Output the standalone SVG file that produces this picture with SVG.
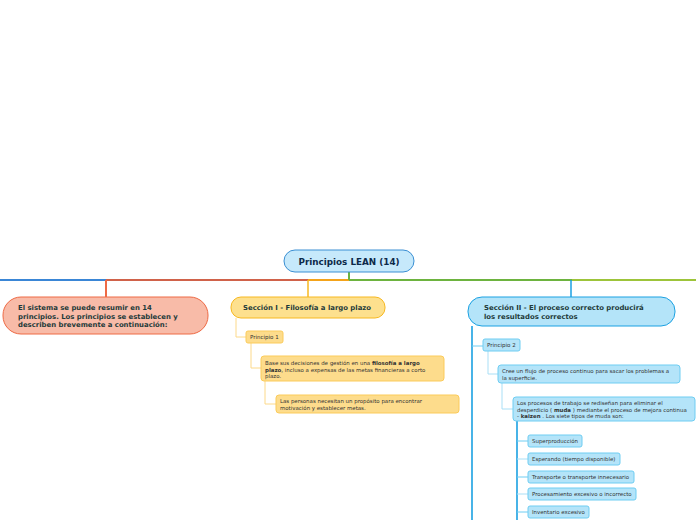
<svg xmlns="http://www.w3.org/2000/svg" width="696" height="520" viewBox="0 0 696 520">
<style>
text{font-family:"DejaVu Sans","Verdana",sans-serif;fill:#333}
.b{font-weight:bold}
.main{font-size:8.8px;font-weight:bold;fill:#0d2a4a}
.sec{font-size:6.9px;font-weight:bold;fill:#1e3a3a}
.sm{font-size:5.45px}
.pr{font-size:5.5px}
.c{fill:none;stroke-width:1}
.y{fill:#fddc8c;stroke:#fbcb5a;stroke-width:1}
.bl{fill:#b4e4f9;stroke:#6ecdf2;stroke-width:1}
</style>
<rect width="696" height="520" fill="#fff"/>
<g id="connectors" fill="none">
<path d="M0 280H106" stroke="#3a86d6" stroke-width="2"/>
<path d="M106 280H308" stroke="#d0624a" stroke-width="2"/>
<path d="M308 280H349" stroke="#f4a31a" stroke-width="2"/>
<path d="M349 280H572" stroke="#6db33f" stroke-width="2"/>
<path d="M572 280H696" stroke="#9dc43a" stroke-width="2"/>
<path d="M349 272V280" stroke="#6db33f" stroke-width="2"/>
<path d="M106 280V297" stroke="#ee6a45" stroke-width="2"/>
<path d="M308 280V297" stroke="#f7b820" stroke-width="1.5"/>
<path d="M571 280V297" stroke="#1ba1e2" stroke-width="1.5"/>
<path d="M236 318V337H246" stroke="#fcd98a" stroke-width="1"/>
<path d="M251 343V368H261" stroke="#fcd98a" stroke-width="1"/>
<path d="M265 381V404H276" stroke="#fcd98a" stroke-width="1"/>
<path d="M472 326V520" stroke="#1ba1e2" stroke-width="1.6"/>
<path d="M472 346H483" stroke="#6ecdf2" stroke-width="1"/>
<path d="M488 351V374H498" stroke="#a9dff6" stroke-width="1"/>
<path d="M502 383V409H513" stroke="#a9dff6" stroke-width="1"/>
<path d="M517 421V520" stroke="#1ba1e2" stroke-width="1.6"/>
<path d="M517 441H528" stroke="#6ecdf2" stroke-width="1"/>
<path d="M517 459H528" stroke="#a9dff6" stroke-width="1"/>
<path d="M517 477H528" stroke="#6ecdf2" stroke-width="1"/>
<path d="M517 494H528" stroke="#a9dff6" stroke-width="1"/>
<path d="M517 512H528" stroke="#6ecdf2" stroke-width="1"/>
</g>
<g id="root">
<rect x="284" y="250" width="130" height="22" rx="11" fill="#c6e9fb" stroke="#3a8fd3" stroke-width="1"/>
<text class="main" x="349" y="264.5" text-anchor="middle">Principios LEAN (14)</text>
</g>
<g id="intro">
<rect x="3" y="297" width="205" height="37" rx="18" fill="#f8bba8" stroke="#ee6a45" stroke-width="1"/>
<text class="sec" x="18" y="310">El sistema se puede resumir en 14</text>
<text class="sec" x="18" y="318.5">principios. Los principios se establecen y</text>
<text class="sec" x="18" y="327">describen brevemente a continuación:</text>
</g>
<g id="seccion1">
<rect x="231" y="297" width="154" height="21" rx="10" fill="#fde08e" stroke="#f7b820" stroke-width="1"/>
<text class="sec" x="243" y="310">Sección I - Filosofía a largo plazo</text>
</g>
<g id="principio1">
<rect class="y" x="246" y="331" width="37" height="12" rx="2"/>
<text class="pr" x="250" y="339">Principio 1</text>
</g>
<g id="p1-texto">
<rect class="y" x="261" y="356" width="183" height="25" rx="3"/>
<text class="sm" x="265" y="365">Base sus decisiones de gestión en una <tspan class="b">filosofía a largo</tspan></text>
<text class="sm" x="265" y="371.5"><tspan class="b">plazo</tspan>, incluso a expensas de las metas financieras a corto</text>
<text class="sm" x="265" y="378">plazo.</text>
</g>
<g id="p1-personas">
<rect class="y" x="276" y="395" width="183" height="18" rx="3"/>
<text class="sm" x="280" y="402.5">Las personas necesitan un propósito para encontrar</text>
<text class="sm" x="280" y="409.5">motivación y establecer metas.</text>
</g>
<g id="seccion2">
<rect x="468" y="297" width="207" height="29" rx="14" fill="#b4e4f9" stroke="#1ba1e2" stroke-width="1"/>
<text class="sec" x="484" y="310">Sección II - El proceso correcto producirá</text>
<text class="sec" x="484" y="319">los resultados correctos</text>
</g>
<g id="principio2">
<rect class="bl" x="483" y="339" width="37" height="12" rx="2"/>
<text class="pr" x="487" y="347">Principio 2</text>
</g>
<g id="p2-flujo">
<rect class="bl" x="498" y="365" width="182" height="18" rx="3"/>
<text class="sm" x="502" y="372.5">Cree un flujo de proceso continuo para sacar los problemas a</text>
<text class="sm" x="502" y="379.5">la superficie.</text>
</g>
<g id="p2-muda">
<rect class="bl" x="513" y="397" width="182" height="24" rx="3"/>
<text class="sm" x="517" y="405">Los procesos de trabajo se rediseñan para eliminar el</text>
<text class="sm" x="517" y="411.5">desperdicio ( <tspan class="b">muda</tspan> ) mediante el proceso de mejora continua</text>
<text class="sm" x="517" y="418">- <tspan class="b">kaizen</tspan> . Los siete tipos de muda son:</text>
</g>
<g id="muda1">
<rect class="bl" x="528" y="435" width="54" height="12" rx="2"/>
<text class="sm" x="532" y="443">Superproducción</text>
</g>
<g id="muda2">
<rect class="bl" x="528" y="453" width="92" height="12" rx="2"/>
<text class="sm" x="532" y="461">Esperando (tiempo disponible)</text>
</g>
<g id="muda3">
<rect class="bl" x="528" y="471" width="106" height="12" rx="2"/>
<text class="sm" x="532" y="479">Transporte o transporte innecesario</text>
</g>
<g id="muda4">
<rect class="bl" x="528" y="488" width="108" height="12" rx="2"/>
<text class="sm" x="532" y="496">Procesamiento excesivo o incorrecto</text>
</g>
<g id="muda5">
<rect class="bl" x="528" y="506" width="61" height="12" rx="2"/>
<text class="sm" x="532" y="514">Inventario excesivo</text>
</g>
</svg>
